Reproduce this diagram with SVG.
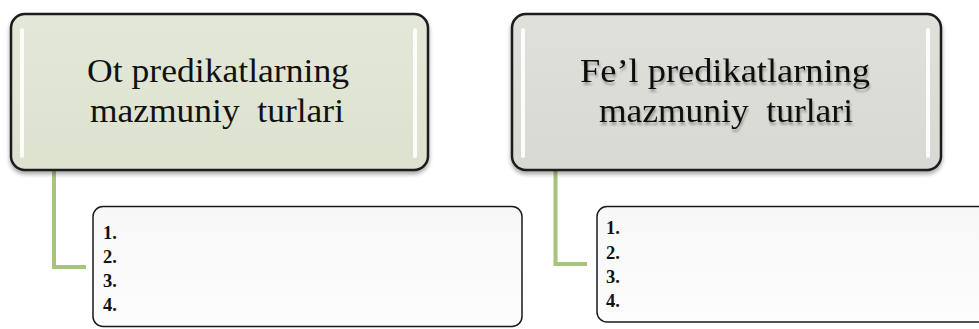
<svg xmlns="http://www.w3.org/2000/svg" width="979" height="329" viewBox="0 0 979 329">
<defs>
<style>
.top{stroke:#1a1a1a;stroke-width:2.5}
.low{fill:url(#lowg);stroke:#1a1a1a;stroke-width:1.5}
.hl{fill:#ffffff;opacity:0.9}
.conn{fill:none;stroke:#a6c47a;stroke-width:4}
</style>
<linearGradient id="greenG" x1="0" y1="0" x2="0" y2="1">
<stop offset="0" stop-color="#e3e7d8"/>
<stop offset="1" stop-color="#dde2cf"/>
</linearGradient>
<linearGradient id="greyG" x1="0" y1="0" x2="0" y2="1">
<stop offset="0" stop-color="#e0e0db"/>
<stop offset="1" stop-color="#d9d9d3"/>
</linearGradient>
<linearGradient id="lowg" x1="0" y1="0" x2="0" y2="1">
<stop offset="0" stop-color="#f7f7f7"/>
<stop offset="1" stop-color="#fdfdfd"/>
</linearGradient>
<filter id="sh" x="-5%" y="-5%" width="110%" height="120%">
<feGaussianBlur in="SourceAlpha" stdDeviation="2"/>
<feOffset dx="0" dy="3" result="b"/>
<feComponentTransfer><feFuncA type="linear" slope="0.35"/></feComponentTransfer>
<feMerge><feMergeNode/><feMergeNode in="SourceGraphic"/></feMerge>
</filter>
<filter id="tsh" x="-5%" y="-20%" width="110%" height="150%">
<feGaussianBlur in="SourceAlpha" stdDeviation="1.3"/>
<feOffset dx="1" dy="2.5"/>
<feComponentTransfer><feFuncA type="linear" slope="0.3"/></feComponentTransfer>
<feMerge><feMergeNode/><feMergeNode in="SourceGraphic"/></feMerge>
</filter>
</defs>
<g id="connectors">
<path class="conn" d="M54,170 V267 H86"/>
<path class="conn" d="M555.5,170 V264 H587"/>
</g>
<g id="node-ot">
<rect class="top" x="11" y="14" width="417" height="156" rx="14" fill="url(#greenG)" filter="url(#sh)"/>
<rect class="hl" x="20" y="28" width="4" height="130" rx="2"/>
<rect class="hl" x="413" y="28" width="4" height="130" rx="2"/>
<g font-family="Liberation Serif, Times New Roman, serif" font-size="34" fill="#111" text-anchor="middle">
<text x="218" y="82" textLength="262" lengthAdjust="spacingAndGlyphs">Ot predikatlarning</text>
<text x="217" y="122" textLength="254" lengthAdjust="spacingAndGlyphs">mazmuniy&#160; turlari</text>
</g>
</g>
<g id="node-fel">
<rect class="top" x="512" y="14" width="429" height="156" rx="14" fill="url(#greyG)" filter="url(#sh)"/>
<rect class="hl" x="521" y="28" width="4" height="130" rx="2"/>
<rect class="hl" x="926" y="28" width="4" height="130" rx="2"/>
<g font-family="Liberation Serif, Times New Roman, serif" font-size="34" fill="#111" text-anchor="middle" filter="url(#tsh)">
<text x="725" y="82" textLength="290" lengthAdjust="spacingAndGlyphs">Fe’l predikatlarning</text>
<text x="726" y="122" textLength="254" lengthAdjust="spacingAndGlyphs">mazmuniy&#160; turlari</text>
</g>
</g>
<g id="node-ot-list">
<rect class="low" x="93" y="206.5" width="429" height="120" rx="10"/>
<g font-family="Liberation Serif, Times New Roman, serif" font-size="18.5" font-weight="bold" fill="#111">
<text x="103" y="239">1.</text>
<text x="103" y="263">2.</text>
<text x="103" y="287">3.</text>
<text x="103" y="311">4.</text>
</g>
</g>
<g id="node-fel-list">
<rect class="low" x="597" y="206.5" width="400" height="115.5" rx="10"/>
<g font-family="Liberation Serif, Times New Roman, serif" font-size="18.5" font-weight="bold" fill="#111">
<text x="606" y="234">1.</text>
<text x="606" y="258.5">2.</text>
<text x="606" y="282.5">3.</text>
<text x="606" y="307">4.</text>
</g>
</g>
</svg>
